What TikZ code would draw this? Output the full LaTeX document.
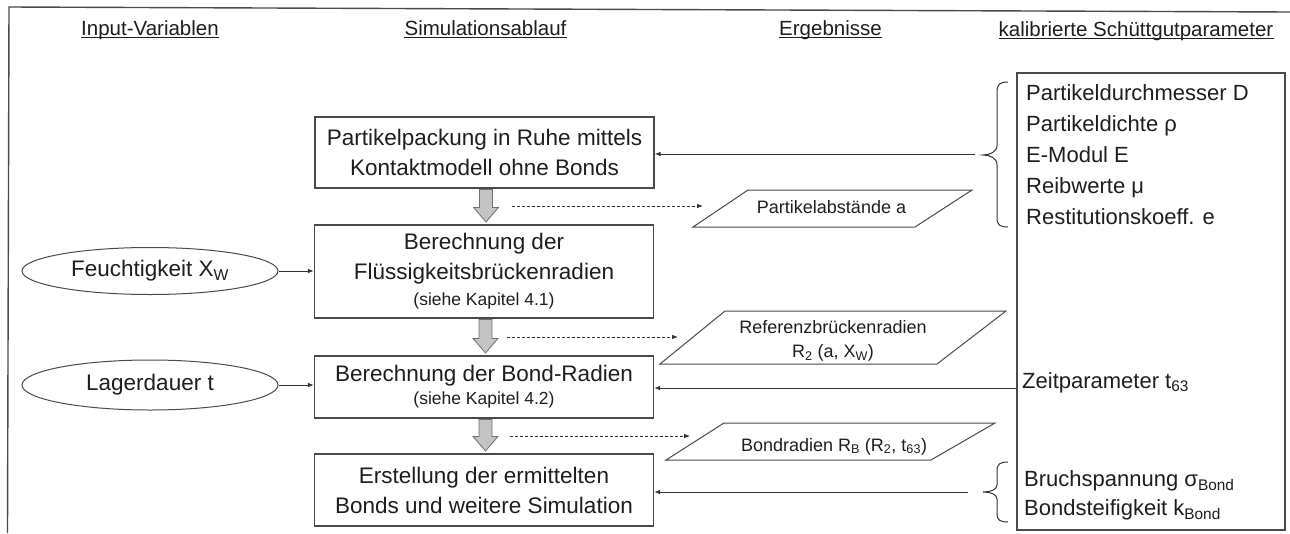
\documentclass[tikz,border=0pt]{standalone}
\usepackage{fontspec}
\setmainfont{Liberation Sans}
\usetikzlibrary{arrows.meta,calc,shapes.geometric}
\definecolor{txt}{HTML}{1E1E1E}
\definecolor{linec}{HTML}{333333}
\definecolor{boxc}{HTML}{4A4A4A}
\definecolor{blkfill}{HTML}{C4C4C4}
\definecolor{blkdraw}{HTML}{707070}
\newcommand\blockarrow[2]{%
  \draw[blk] let \p1=(#1), \p2=(#2) in
    (\x1-6.5pt,\y1-1pt) -- (\x1+6.5pt,\y1-1pt) -- (\x1+6.5pt,\y2+17pt) -- (\x1+12.5pt,\y2+17pt)
    -- (\x1,\y2+2.5pt) -- (\x1-12.5pt,\y2+17pt) -- (\x1-6.5pt,\y2+17pt) -- cycle;}
\begin{document}
\begin{tikzpicture}[x=1pt,y=-1pt,
  every node/.style={text=txt},
  box/.style={draw=boxc, line width=1.1pt, minimum width=339pt, inner sep=0pt, align=center,
    font=\fontsize{22.5}{30}\selectfont},
  ell/.style={ellipse, draw=boxc, line width=1pt, minimum width=256pt, minimum height=47pt,
    inner sep=0pt, font=\fontsize{22.5}{27}\selectfont},
  hdr/.style={anchor=base, inner sep=0pt, font=\fontsize{20.5}{24}\selectfont},
  uline/.style={draw=txt, line width=0.9pt},
  arr/.style={draw=linec, line width=1pt, -{Latex[length=6pt,width=4.5pt]}},
  dasharr/.style={draw=linec, line width=0.8pt, dash pattern=on 3pt off 2pt, -{Latex[length=6pt,width=4.5pt]}},
  para/.style={draw=boxc, line width=1pt},
  ptext/.style={inner sep=0pt, align=center, font=\fontsize{18}{24}\selectfont},
  rtext/.style={inner sep=0pt, align=left, font=\fontsize{22}{31}\selectfont},
  blk/.style={fill=blkfill, draw=blkdraw, line width=0.8pt},
  brc/.style={draw=linec, line width=1pt},
  frame/.style={draw=boxc, line width=1.4pt}]
\useasboundingbox (0,0) rectangle (1290,533);
% frame
\draw[frame] (7.5,533) -- (9,7) -- (1290,12);
% headers
\node[hdr] (h1) at (150,35) {Input-Variablen};
\node[hdr] (h2) at (485.5,35) {Simulationsablauf};
\node[hdr] (h3) at (830.5,35) {Ergebnisse};
\node[hdr] (h4) at (1136,36) {kalibrierte Schüttgutparameter};
\foreach \h in {h1,h2,h3,h4}
  \draw[uline] ([yshift=-2.5pt]\h.base west) -- ([yshift=-2.5pt]\h.base east);
% process boxes
\node[box, minimum height=71pt] (b1) at (484.5,152.5) {Partikelpackung in Ruhe mittels\\Kontaktmodell ohne Bonds};
\node[box, minimum height=93pt] (b2) at (484,271.5) {Berechnung der\\Flüssigkeitsbrückenradien\\[-4pt]{\fontsize{17.5}{20}\selectfont (siehe Kapitel 4.1)}};
\node[box, minimum height=62pt] (b3) at (484,387) {Berechnung der Bond-Radien\\[-7pt]{\fontsize{17.5}{20}\selectfont (siehe Kapitel 4.2)}};
\node[box, minimum height=72pt] (b4) at (484,490) {Erstellung der ermittelten\\Bonds und weitere Simulation};
% block arrows
\blockarrow{$(b1.south)+(1.5,0)$}{$(b2.north)+(1.5,0)$}
\blockarrow{$(b2.south)+(1.5,0)$}{$(b3.north)+(1.5,0)$}
\blockarrow{$(b3.south)+(1.5,0)$}{$(b4.north)+(1.5,0)$}
% input ellipses
\node[ell] (e1) at (150,271) {Feuchtigkeit X\textsubscript{W}};
\node[ell, minimum height=50pt] (e2) at (150,385) {Lagerdauer t};
\draw[arr] (e1) -- (e1 -| b2.west);
\draw[arr] (e2) -- (e2 -| b3.west);
% result parallelograms
\draw[para] (693,227) -- (748,190) -- (972,190) -- (915,227) -- cycle;
\node[ptext, anchor=base] (p1) at (831.5,213) {Partikelabstände a};
\draw[para] (660,364) -- (725,311) -- (1006,311) -- (937,364) -- cycle;
\node[ptext] (p2) at (833,341) {Referenzbrückenradien\\R\textsubscript{2} (a, X\textsubscript{W})};
\draw[para] (666,460) -- (724,423) -- (995,423) -- (931,460) -- cycle;
\node[ptext, anchor=base] (p3) at (834,451) {Bondradien R\textsubscript{B} (R\textsubscript{2}, t\textsubscript{63})};
% dashed result arrows
\coordinate (d1s) at (512,206); \coordinate (d1e) at (703,206);
\coordinate (d2s) at (507,337); \coordinate (d2e) at (678,337);
\coordinate (d3s) at (510,436); \coordinate (d3e) at (690,436);
\draw[dasharr] (d1s) -- (d1e);
\draw[dasharr] (d2s) -- (d2e);
\draw[dasharr] (d3s) -- (d3e);
% calibrated parameters
\node[draw=boxc, line width=1.1pt, minimum width=268pt, minimum height=457pt, inner sep=0pt] (rb) at (1151,301.5) {};
\node[rtext, anchor=north west] (pl) at (1026,84) {Partikeldurchmesser D\\Partikeldichte ρ\\E-Modul E\\Reibwerte μ\\Restitutionskoeff. e};
\node[rtext, anchor=base west] (zeit) at (1022,388) {Zeitparameter t\textsubscript{63}};
\node[rtext, anchor=north west, font=\fontsize{22}{29}\selectfont] (bond) at (1024,470) {Bruchspannung σ\textsubscript{Bond}\\Bondsteifigkeit k\textsubscript{Bond}};
% braces
\draw[brc] (1008,82) .. controls (1000,82) and (997,84) .. (997,92) -- (997,145)
  .. controls (997,152) and (990,155) .. (983,155) .. controls (990,155) and (997,158) .. (997,165)
  -- (997,218) .. controls (997,225) and (1000,227) .. (1008,227);
\draw[brc] (1008,462) .. controls (1000,462) and (997,464) .. (997,471) -- (997,485)
  .. controls (997,490) and (990,492) .. (983,492) .. controls (990,492) and (997,494) .. (997,499)
  -- (997,514) .. controls (997,520) and (1000,522) .. (1008,522);
% parameter arrows
\coordinate (c1) at (975,154);
\coordinate (c2) at (1016,388);
\coordinate (c3) at (968,492);
\draw[arr] (c1) -- (c1 -| b1.east);
\draw[arr] (c2) -- (c2 -| b3.east);
\draw[arr] (c3) -- (c3 -| b4.east);
\end{tikzpicture}
\end{document}
